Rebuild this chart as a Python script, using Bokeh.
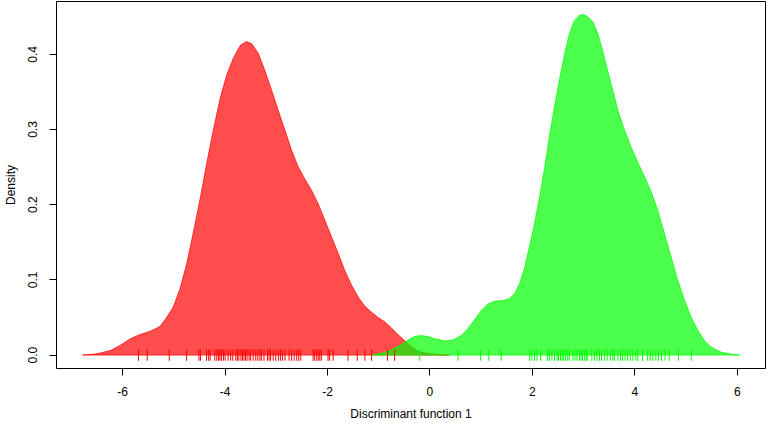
from bokeh.plotting import figure
from bokeh.models import Range1d, FixedTicker, NumeralTickFormatter
from bokeh.embed import file_html
from bokeh.resources import INLINE

# Density curve of group 1 (red)
red_x = [-6.78, -6.50, -6.24, -6.05, -5.85, -5.66, -5.46, -5.27, -5.15, -5.01,
         -4.88, -4.75, -4.61, -4.48, -4.36, -4.23, -4.09, -3.96, -3.83, -3.70,
         -3.58, -3.48, -3.35, -3.22, -3.09, -2.96, -2.83, -2.70, -2.57, -2.44,
         -2.31, -2.18, -2.05, -1.92, -1.79, -1.66, -1.53, -1.40, -1.27, -1.14,
         -1.01, -0.88, -0.75, -0.62, -0.49, -0.36, -0.23, -0.07, 0.12, 0.38]
red_y = [0.000, 0.0017, 0.006, 0.0128, 0.0217, 0.0274, 0.0318, 0.038, 0.049, 0.064,
         0.088, 0.121, 0.166, 0.210, 0.254, 0.299, 0.343, 0.374, 0.396, 0.412,
         0.417, 0.414, 0.401, 0.378, 0.352, 0.325, 0.299, 0.272, 0.250, 0.234,
         0.219, 0.201, 0.179, 0.157, 0.135, 0.112, 0.093, 0.077, 0.065, 0.057,
         0.050, 0.044, 0.036, 0.027, 0.019, 0.011, 0.005, 0.0025, 0.001, 0.000]

# Density curve of group 2 (green)
green_x = [-1.14, -0.95, -0.75, -0.56, -0.43, -0.30, -0.17, -0.04, 0.13, 0.29,
           0.45, 0.61, 0.74, 0.87, 1.00, 1.13, 1.26, 1.43, 1.55, 1.65,
           1.75, 1.85, 1.94, 2.04, 2.14, 2.24, 2.33, 2.43, 2.53, 2.63,
           2.72, 2.82, 2.92, 2.99, 3.08, 3.18, 3.28, 3.37, 3.47, 3.57,
           3.67, 3.80, 3.93, 4.06, 4.19, 4.32, 4.45, 4.58, 4.71, 4.84,
           4.97, 5.10, 5.23, 5.36, 5.49, 5.68, 5.88, 6.05]
green_y = [0.000, 0.0025, 0.007, 0.014, 0.020, 0.0247, 0.026, 0.0247, 0.021, 0.019,
           0.020, 0.026, 0.035, 0.047, 0.059, 0.068, 0.0717, 0.0726, 0.075, 0.0815,
           0.095, 0.117, 0.1435, 0.1746, 0.210, 0.250, 0.290, 0.330, 0.367, 0.401,
           0.427, 0.445, 0.452, 0.453, 0.450, 0.443, 0.427, 0.405, 0.378, 0.352,
           0.325, 0.299, 0.276, 0.256, 0.237, 0.217, 0.192, 0.161, 0.130, 0.099,
           0.073, 0.050, 0.033, 0.019, 0.0105, 0.004, 0.0013, 0.000]

# Rug (individual observations)
red_rug = [-5.69, -5.52, -5.09, -4.75, -4.51, -4.48, -4.36, -4.32, -4.29, -4.20,
           -4.16, -4.13, -4.10, -4.07, -4.03, -4.00, -3.94, -3.89, -3.85, -3.79,
           -3.76, -3.73, -3.69, -3.66, -3.63, -3.60, -3.57, -3.53, -3.50, -3.45,
           -3.40, -3.36, -3.32, -3.29, -3.24, -3.17, -3.14, -3.11, -3.06, -3.01,
           -2.96, -2.92, -2.88, -2.83, -2.75, -2.70, -2.65, -2.60, -2.56, -2.52,
           -2.28, -2.25, -2.21, -2.18, -2.15, -2.12, -1.99, -1.96, -1.89, -1.60,
           -1.42, -1.27, -1.14, -0.83, -0.69]
green_rug = [-0.20, 0.55, 0.99, 1.15, 1.39, 1.94, 1.99, 2.04, 2.09, 2.16,
             2.29, 2.33, 2.38, 2.43, 2.48, 2.51, 2.55, 2.58, 2.61, 2.65,
             2.69, 2.72, 2.79, 2.83, 2.87, 2.92, 2.95, 2.98, 3.02, 3.05,
             3.07, 3.16, 3.21, 3.26, 3.31, 3.35, 3.41, 3.46, 3.52, 3.57,
             3.60, 3.67, 3.72, 3.76, 3.81, 3.86, 3.91, 3.96, 4.02, 4.06,
             4.15, 4.25, 4.30, 4.35, 4.41, 4.46, 4.52, 4.59, 4.67, 4.85, 5.10]

x_ticks = [-6, -4, -2, 0, 2, 4, 6]
x_tick_labels = ["-6", "-4", "-2", "0", "2", "4", "6"]
y_ticks = [0.0, 0.1, 0.2, 0.3, 0.4]
x_title = "Discriminant function 1"
y_title = "Density"

FONT = "Liberation Sans"

p = figure(width=767, height=423, output_backend="svg", toolbar_location=None,
           x_range=Range1d(-7.29, 6.55), y_range=Range1d(-0.0178, 0.4702),
           min_border_left=55, min_border_right=2, min_border_top=1,
           min_border_bottom=55)
p.background_fill_color = "white"
p.border_fill_color = "white"
p.outline_line_color = "black"
p.outline_line_width = 1
p.xgrid.visible = False
p.ygrid.visible = False

p.patch(red_x, red_y, fill_color="red", fill_alpha=0.7,
        line_color="red", line_alpha=0.7, line_width=1)
p.patch(green_x, green_y, fill_color="lime", fill_alpha=0.7,
        line_color="lime", line_alpha=0.7, line_width=1)
p.segment(x0=red_rug, y0=-0.0075, x1=red_rug, y1=0.0075,
          line_color="red", line_width=1)
p.segment(x0=green_rug, y0=-0.0075, x1=green_rug, y1=0.0075,
          line_color="lime", line_width=1)

for ax in (p.xaxis[0], p.yaxis[0]):
    ax.axis_line_color = None
    ax.major_tick_out = 7
    ax.major_tick_in = 0
    ax.minor_tick_out = 0
    ax.minor_tick_in = 0
    ax.major_tick_line_color = "black"
    ax.major_label_text_font = FONT
    ax.major_label_text_font_size = "12px"
    ax.major_label_text_color = "black"
    ax.axis_label_text_font = FONT
    ax.axis_label_text_font_size = "12px"
    ax.axis_label_text_font_style = "normal"
    ax.axis_label_text_color = "black"

p.xaxis.ticker = FixedTicker(ticks=x_ticks)
p.xaxis.major_label_overrides = {t: s for t, s in zip(x_ticks, x_tick_labels)}
p.xaxis.axis_label = x_title
p.xaxis.major_label_standoff = 11
p.xaxis.axis_label_standoff = 8

p.yaxis.ticker = FixedTicker(ticks=y_ticks)
p.yaxis.formatter = NumeralTickFormatter(format="0.0")
p.yaxis.major_label_orientation = "vertical"
p.yaxis.axis_label = y_title
p.yaxis.major_label_standoff = 12
p.yaxis.axis_label_standoff = 8

open("out.html", "w").write(file_html(p, INLINE))
